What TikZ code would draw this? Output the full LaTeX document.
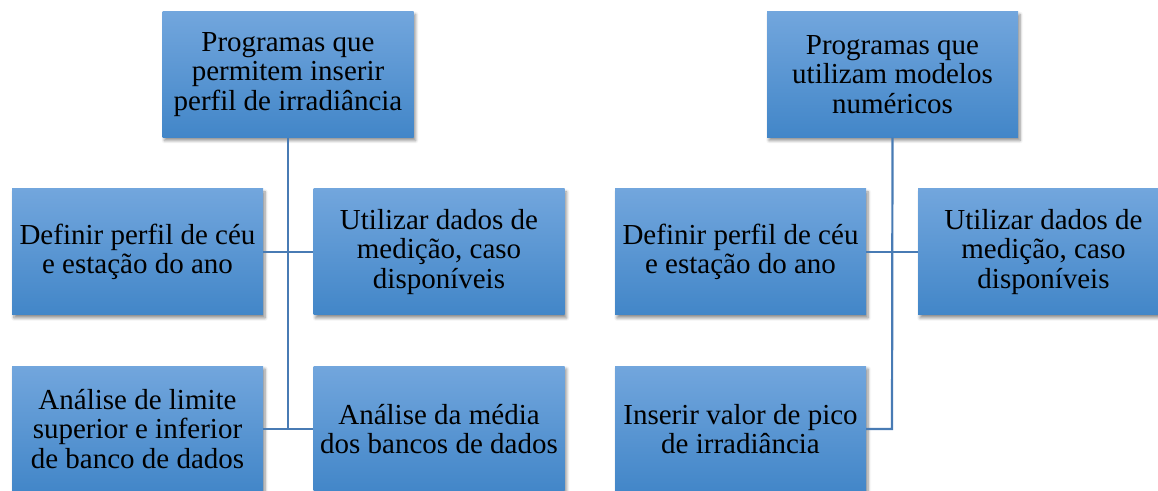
\documentclass[tikz,border=0pt]{standalone}
\usepackage{fontspec}
\setmainfont{Liberation Serif}
\usetikzlibrary{shadows.blur}
\definecolor{boxtop}{RGB}{114,166,221}
\definecolor{boxbot}{RGB}{66,134,200}
\definecolor{linkc}{RGB}{72,123,180}
\tikzset{
  box/.style={rectangle, minimum width=251pt, minimum height=126pt, inner sep=0pt,
    top color=boxtop, bottom color=boxbot, align=center,
    font=\fontsize{29}{29.5}\selectfont,
    blur shadow={shadow xshift=2pt, shadow yshift=-3pt, shadow blur steps=6, shadow opacity=45, shadow blur radius=3pt}},
  link/.style={draw=linkc, line width=2.2pt}
}
\begin{document}
\begin{tikzpicture}[x=1pt,y=1pt]
\useasboundingbox (0,0) rectangle (1158,490);
\clip (0,0) rectangle (1158,490);
% left diagram
\node[box] (lt) at (288,415.5) {Programas que\\permitem inserir\\perfil de irradiância};
\node[box] (l1) at (137.5,238) {Definir perfil de céu\\e estação do ano};
\node[box] (l2) at (439,238) {Utilizar dados de\\medição, caso\\disponíveis};
\node[box] (l3) at (137.5,61) {Análise de limite\\superior e inferior\\de banco de dados};
\node[box] (l4) at (439,61) {Análise da média\\dos bancos de dados};
\coordinate (lj) at (288,61);
% right diagram
\node[box] (rt) at (892.5,415.5) {Programas que\\utilizam modelos\\numéricos};
\node[box] (r1) at (740.5,238) {Definir perfil de céu\\e estação do ano};
\node[box] (r2) at (1043.5,238) {Utilizar dados de\\medição, caso\\disponíveis};
\node[box] (r3) at (740.5,61) {Inserir valor de pico\\de irradiância};
\coordinate (rj) at (892,61);
% connectors
\draw[link] (lt.south) -- (lj);
\draw[link] (l1.east) -- (l2.west);
\draw[link] (l3.east) -- (l4.west);
\draw[link] (rt.south) -- (rj) -- (r3.east);
\draw[link] (r1.east) -- (r2.west);
\end{tikzpicture}
\end{document}
